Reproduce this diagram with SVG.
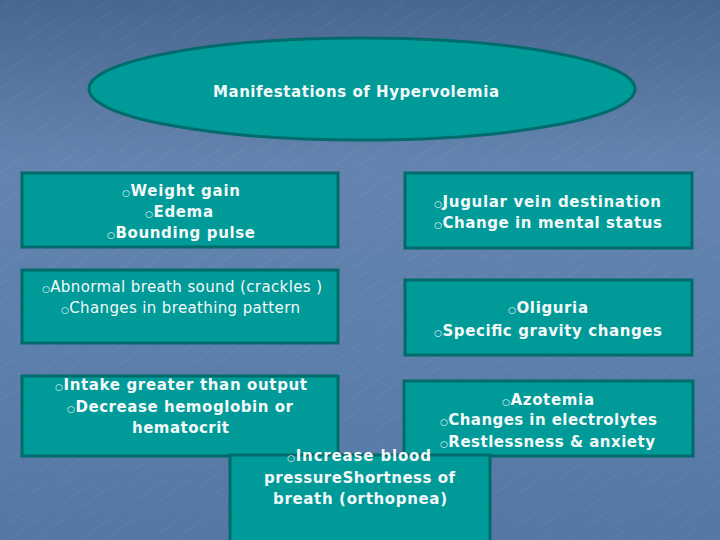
<svg xmlns="http://www.w3.org/2000/svg" width="720" height="540" viewBox="0 0 720 540">
<defs>
<linearGradient id="bg" x1="0" y1="0" x2="0" y2="1">
<stop offset="0" stop-color="#48678f"/>
<stop offset="0.3" stop-color="#6384ae"/>
<stop offset="0.6" stop-color="#5d80ac"/>
<stop offset="1" stop-color="#5477a3"/>
</linearGradient>
<pattern id="tex" width="60" height="40" patternUnits="userSpaceOnUse" patternTransform="rotate(-35)">
<path d="M0 8 H40 M15 22 H60 M5 33 H30" stroke="#ffffff" stroke-opacity="0.04" stroke-width="1.5"/>
</pattern>
<style>
.box{fill:#009b98;stroke:#006b6b;stroke-width:3}
.t{font-family:"DejaVu Sans","Verdana",sans-serif;font-size:15px;fill:#f4f8f8;text-anchor:middle}
.b{font-weight:bold}
.bu{font-size:9px;font-weight:normal}
</style>
</defs>
<rect width="720" height="540" fill="url(#bg)"/>
<rect width="720" height="540" fill="url(#tex)"/>
<g id="connectors"/>
<g id="title">
<ellipse class="box" cx="362" cy="89" rx="273" ry="51"/>
<text class="t b" x="356" y="97" textLength="286">Manifestations of Hypervolemia</text>
</g>
<g id="box1">
<rect class="box" x="22" y="173" width="316" height="74"/>
<text class="t b" x="181" y="196" textLength="118"><tspan class="bu">○</tspan>Weight gain</text>
<text class="t b" x="179" y="217" textLength="68"><tspan class="bu">○</tspan>Edema</text>
<text class="t b" x="181" y="238" textLength="148"><tspan class="bu">○</tspan>Bounding pulse</text>
</g>
<g id="box2">
<rect class="box" x="22" y="270" width="316" height="73"/>
<text class="t" x="182" y="292" textLength="280"><tspan class="bu">○</tspan>Abnormal breath sound (crackles )</text>
<text class="t" x="180.5" y="313" textLength="239"><tspan class="bu">○</tspan>Changes in breathing pattern</text>
</g>
<g id="box5">
<rect class="box" x="405" y="173" width="287" height="75"/>
<text class="t b" x="547.5" y="207" textLength="227"><tspan class="bu">○</tspan>Jugular vein destination</text>
<text class="t b" x="548" y="228" textLength="228"><tspan class="bu">○</tspan>Change in mental status</text>
</g>
<g id="box6">
<rect class="box" x="405" y="280" width="287" height="75"/>
<text class="t b" x="548" y="313" textLength="80"><tspan class="bu">○</tspan>Oliguria</text>
<text class="t b" x="548" y="336" textLength="228"><tspan class="bu">○</tspan>Specific gravity changes</text>
</g>
<g id="box3">
<rect class="box" x="22" y="376" width="316" height="80"/>
<text class="t b" x="181" y="390" textLength="252"><tspan class="bu">○</tspan>Intake greater than output</text>
<text class="t b" x="180" y="412" textLength="226"><tspan class="bu">○</tspan>Decrease hemoglobin or</text>
<text class="t b" x="180.5" y="433" textLength="97">hematocrit</text>
</g>
<g id="box7">
<rect class="box" x="404" y="381" width="289" height="75"/>
</g>
<g id="box4">
<rect class="box" x="230" y="455" width="260" height="90"/>
<text class="t b" x="359" y="461" textLength="144"><tspan class="bu">○</tspan>Increase blood</text>
<text class="t b" x="359.5" y="483" textLength="191">pressureShortness of</text>
<text class="t b" x="360" y="504" textLength="174">breath (orthopnea)</text>
</g>
<g id="box7-text">
<text class="t b" x="548" y="405" textLength="92"><tspan class="bu">○</tspan>Azotemia</text>
<text class="t b" x="548.5" y="425" textLength="217"><tspan class="bu">○</tspan>Changes in electrolytes</text>
<text class="t b" x="547.5" y="447" textLength="215"><tspan class="bu">○</tspan>Restlessness &amp; anxiety</text>
</g>
</svg>
